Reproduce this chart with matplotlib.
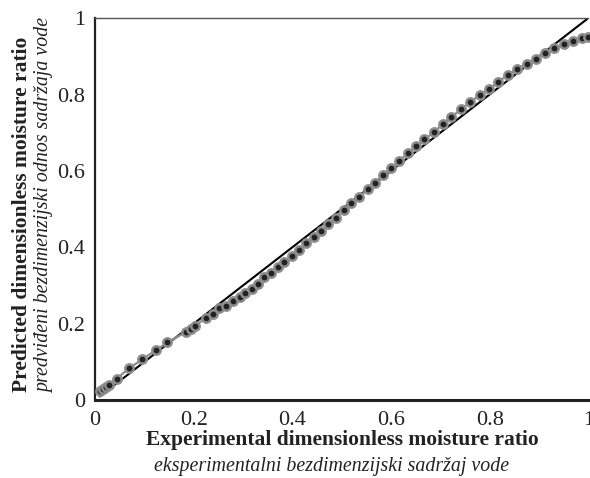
"""実験値と予測値の無次元含水比を比較する散布図を描く。"""

import matplotlib

matplotlib.use("Agg")

import matplotlib.pyplot as plt  # noqa: E402

# 実験値 (横軸) と予測値 (縦軸)。図から読み取った値。
experimental = [
    0.011, 0.017, 0.022, 0.028, 0.044, 0.069, 0.096, 0.124, 0.147, 0.184,
    0.194, 0.203, 0.225, 0.240, 0.252, 0.266, 0.279, 0.293, 0.305, 0.318,
    0.331, 0.343, 0.357, 0.372, 0.384, 0.399, 0.414, 0.428, 0.444, 0.459,
    0.473, 0.489, 0.504, 0.520, 0.536, 0.553, 0.568, 0.583, 0.600, 0.616,
    0.634, 0.651, 0.668, 0.688, 0.705, 0.722, 0.742, 0.761, 0.780, 0.799,
    0.818, 0.837, 0.856, 0.875, 0.894, 0.912, 0.930, 0.951, 0.969, 0.987,
    1.000,
]
predicted = [
    0.023, 0.030, 0.035, 0.039, 0.056, 0.083, 0.107, 0.131, 0.151, 0.178,
    0.186, 0.194, 0.216, 0.225, 0.240, 0.246, 0.259, 0.269, 0.281, 0.292,
    0.305, 0.321, 0.333, 0.349, 0.362, 0.377, 0.393, 0.410, 0.426, 0.443,
    0.461, 0.478, 0.497, 0.515, 0.532, 0.552, 0.569, 0.589, 0.607, 0.625,
    0.646, 0.665, 0.683, 0.702, 0.723, 0.741, 0.761, 0.781, 0.798, 0.814,
    0.834, 0.851, 0.866, 0.881, 0.894, 0.909, 0.921, 0.932, 0.940, 0.948,
    0.951,
]

# 1:1 の基準線
diagonal = [0.01, 1.0]

ticks = [0, 0.2, 0.4, 0.6, 0.8, 1]
tick_labels = ["0", "0.2", "0.4", "0.6", "0.8", "1"]

plt.rcParams["font.family"] = ["Liberation Serif", "DejaVu Serif"]

figure = plt.figure(figsize=(5.9, 4.78), dpi=100)
axes = figure.add_axes([0.161, 0.163, 0.836, 0.799])

axes.plot(diagonal, diagonal, color="black", linewidth=1.5, zorder=2)
axes.plot(
    experimental,
    predicted,
    color="#8c8c8c",
    linewidth=1.6,
    marker="o",
    markersize=6,
    markerfacecolor="#222222",
    markeredgecolor="#8c8c8c",
    markeredgewidth=1.8,
    zorder=3,
    clip_on=False,
)

axes.set_xlim(0, 1)
axes.set_ylim(0, 1)
axes.set_xticks(ticks)
axes.set_xticklabels(tick_labels)
axes.set_yticks(ticks)
axes.set_yticklabels(tick_labels)
axes.tick_params(length=0, labelsize=16, colors="#222222")
axes.tick_params(axis="y", pad=7)
axes.tick_params(axis="x", pad=8)

axes.spines["right"].set_visible(False)
axes.spines["top"].set_color("#555555")
axes.spines["top"].set_linewidth(1.0)
axes.spines["left"].set_color("#222222")
axes.spines["left"].set_linewidth(1.6)
axes.spines["bottom"].set_color("#222222")
axes.spines["bottom"].set_linewidth(2.2)

text_color = "#222222"
figure.text(0.58, 0.079, "Experimental dimensionless moisture ratio",
            ha="center", va="center", fontsize=15.5, fontweight="bold",
            color=text_color)
figure.text(0.562, 0.025, "eksperimentalni bezdimenzijski sadržaj vode",
            ha="center", va="center", fontsize=14.3, fontstyle="italic",
            color=text_color)
figure.text(0.037, 0.552, "Predicted dimensionless moisture ratio",
            ha="center", va="center", rotation=90, fontsize=15.5,
            fontweight="bold", color=text_color)
figure.text(0.076, 0.571, "predviđeni bezdimenzijski odnos sadržaja vode",
            ha="center", va="center", rotation=90, fontsize=14.3,
            fontstyle="italic", color=text_color)

figure.savefig("out.png", dpi=100)
plt.close(figure)
